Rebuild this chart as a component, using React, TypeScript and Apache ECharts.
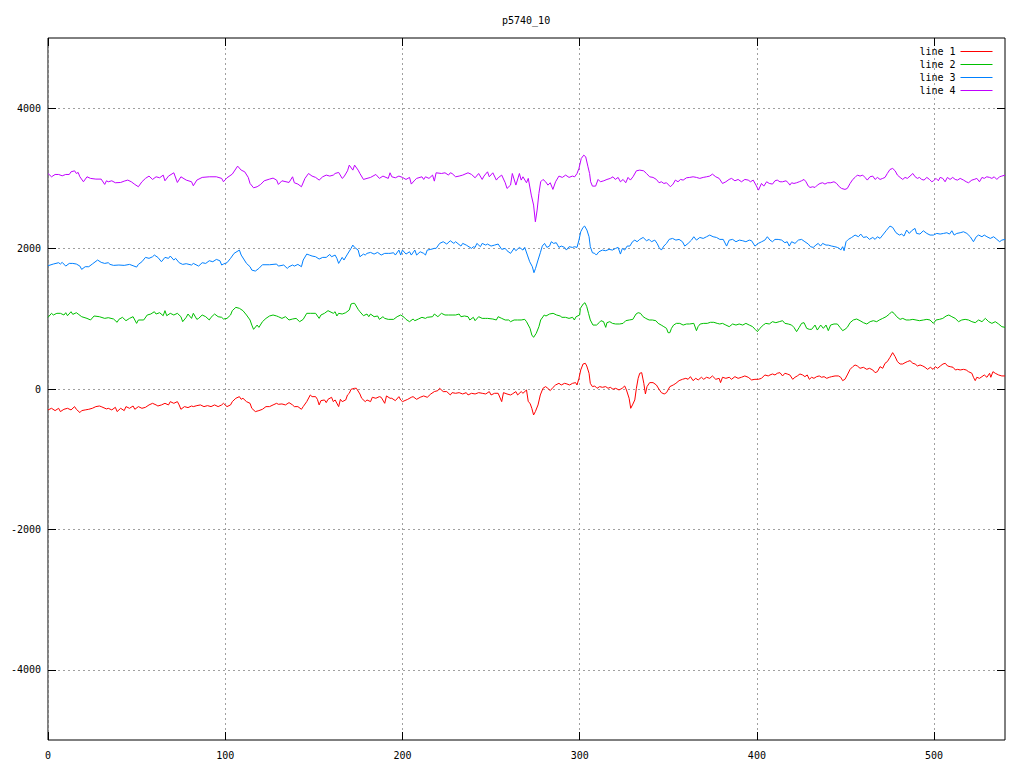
import React, { useEffect, useRef } from "react";
import * as echarts from "echarts";

const chartTitle = "p5740_10";
const seriesNames = ["line 1", "line 2", "line 3", "line 4"];
const seriesColors = ["#ff0000", "#00c000", "#0080ff", "#c000ff"];
const xTicks = [0, 100, 200, 300, 400, 500];
const yTicks = [-4000, -2000, 0, 2000, 4000];

const line1: [number, number][] = [[0,-298],[2,-275],[4,-308],[6,-275],[7,-322],[9,-289],[11,-275],[13,-298],[15,-251],[16,-289],[18,-336],[19,-308],[21,-298],[23,-289],[25,-275],[27,-251],[29,-242],[30,-251],[33,-284],[34,-275],[36,-298],[38,-261],[39,-322],[41,-275],[43,-308],[44,-251],[46,-275],[48,-242],[49,-289],[51,-251],[53,-275],[55,-261],[57,-227],[59,-204],[61,-227],[62,-242],[64,-227],[66,-204],[68,-227],[69,-180],[71,-204],[73,-180],[74,-227],[75,-289],[77,-251],[79,-265],[81,-242],[82,-251],[84,-237],[86,-227],[88,-251],[90,-237],[92,-251],[94,-227],[96,-251],[98,-227],[99,-204],[101,-251],[103,-227],[104,-180],[106,-132],[108,-109],[109,-147],[110,-132],[112,-180],[114,-204],[115,-275],[117,-322],[119,-308],[121,-289],[123,-251],[125,-251],[127,-227],[129,-204],[130,-218],[132,-213],[134,-227],[136,-194],
[138,-227],[139,-251],[141,-251],[143,-289],[144,-251],[146,-180],[148,-85],[149,-109],[151,-109],[152,-147],[153,-227],[154,-166],[156,-156],[157,-194],[158,-147],[160,-118],[161,-180],[162,-156],[164,-251],[165,-147],[166,-180],[168,-156],[169,-85],[170,-61],[171,-4],[173,10],[174,10],[176,-71],[177,-132],[179,-180],[180,-156],[182,-180],[183,-118],[185,-132],[187,-109],[188,-118],[190,-204],[191,-99],[193,-132],[194,-132],[196,-166],[198,-109],[199,-156],[200,-180],[203,-147],[205,-118],[206,-109],[208,-147],[210,-118],[212,-99],[214,-118],[216,-71],[218,-37],[220,-23],[221,10],[223,-37],[225,-37],[227,-85],[228,-52],[230,-61],[232,-52],[234,-71],[236,-52],[237,-85],[239,-61],[241,-71],[243,-52],[245,-61],[247,-71],[249,-37],[250,-85],[252,-61],[254,-61],[256,-180],[257,-52],[259,-71],[261,-85],[262,-71],[264,-37],[265,-85],[267,-37],[268,-61],[270,-14],[271,-180],
[272,-204],[273,-275],[274,-370],[275,-322],[276.5,-227],[277.8,-85],[279.3,10],[280.8,34],[282,10],[283.4,-23],[285,24],[286.4,57],[288.3,81],[289.6,57],[291.5,81],[292.8,72],[294.3,57],[296,81],[297.7,91],[298.5,57],[299.6,152],[300.6,271],[301.9,356],[303.2,366],[304,328],[305.3,224],[306,81],[307.2,34],[308.5,43],[309.8,10],[311.3,34],[312.8,24],[314.7,34],[316,10],[317.3,24],[318.8,-4],[320.3,10],[322.2,-14],[324,10],[325.4,43],[326.4,-14],[327.9,-132],[328.8,-275],[329.8,-227],[331.1,-156],[332,10],[333,152],[333.9,224],[335,233],[336.2,81],[337.1,-71],[338,34],[339.5,91],[341.4,91],[343.3,57],[344.8,-4],[346.1,-52],[347.7,-71],[349,-52],[350.9,34],[352.8,57],[354.3,81],[356.1,119],[358,138],[359.9,152],[361.2,138],[362.5,176],[364,119],[365.5,152],[366.9,129],[368.7,167],[370,138],[371.6,167],[373.4,152],[374.9,186],[376.8,138],[378.7,152],[379.5,91],[380.6,167],[382.5,152],[384.4,167],[385.7,138],[387.6,176],[389.4,152],[391.3,167],[393.2,186],[395.1,167],[397,129],[398.9,138],[400.8,138],[402.6,152],[404.5,200],[406.4,186],[407.4,200],
[408.8,214],[410.2,200],[411.5,224],[413,233],[414.5,186],[415.8,224],[417.1,214],[418.6,200],[420.2,138],[421.5,167],[422.8,186],[424.3,214],[425.8,200],[427.1,176],[428.4,200],[429.6,138],[430.9,167],[432.2,152],[433.7,176],[435.2,186],[436.5,167],[437.9,176],[439.4,152],[440.9,167],[442.2,176],[444.1,186],[446,186],[447.3,167],[448.4,119],[449.7,138],[451,200],[452.6,280],[454.1,318],[455.4,342],[456.7,328],[458.2,295],[460.1,309],[462,280],[463.5,295],[465.4,271],[466.7,233],[468,247],[469.5,318],[471,295],[472.3,366],[473.6,390],[475.1,451],[476.6,518],[478,461],[479.3,390],[480.8,356],[482.3,356],[483.6,375],[484.9,390],[486.4,404],[488,366],[489.3,356],[490.6,328],[492.1,342],[493.6,328],[494.9,309],[496.3,280],[497.9,309],[499.4,280],[500.7,318],[502,295],[503.5,328],[505,356],[506.3,366],[507.6,328],[509.1,318],[510.7,309],[512,271],[513.3,280],[514.7,271],[516.6,280],[518.1,271],[519.4,247],[521.3,224],[522.2,167],[523.2,119],[524.1,167],[525.6,152],[527,176],[528.3,200],[529.8,167],[531.3,224],[532,167],[533.2,247],[534.5,224],[536.4,200],[538.2,186],[540,186]];

const line2: [number, number][] = [[0,1021],[2,1078],[3,1054],[5,1078],[7,1078],[9,1054],[10,1087],[11,1044],[13,1101],[14,1063],[16,1087],[17,1068],[19,1030],[22,1006],[24,983],[26,1040],[29,1030],[32,1006],[34,1016],[37,997],[39,950],[40,992],[42,1021],[44,973],[46,1006],[48,1030],[50,935],[51,983],[54,983],[56,1054],[58,1068],[60,1101],[61,1068],[63,1087],[65,1044],[66,1116],[67,1044],[69,1078],[71,1054],[73,1078],[75,1030],[76,959],[78,1021],[79,1068],[81,1006],[82,1078],[84,992],[85,1006],[87,1054],[89,1030],[91,983],[92,1021],[94,1068],[96,1030],[98,1021],[99,997],[101,1006],[103,1054],[104,1116],[106,1163],[108,1149],[110,1116],[112,1054],[114,983],[115,911],[116,850],[118,911],[119,878],[121,959],[123,1006],[125,1040],[127,1054],[129,1040],[130,1030],[132,1006],[134,1030],[136,983],
[138,997],[140,1006],[142,959],[144,992],[146,1078],[148,1078],[151,1078],[153,1006],[154,1054],[156,1078],[158,1116],[161,1078],[162,1101],[163,1040],[164,1078],[166,1068],[168,1087],[170,1125],[171,1211],[172,1220],[173,1220],[175,1135],[176,1101],[178,1044],[180,1068],[181,1030],[182,1068],[184,1030],[186,1040],[187,992],[189,1030],[190,1006],[192,992],[195,992],[197,1030],[199,1054],[201,1021],[202,992],[204,959],[206,997],[207,973],[209,997],[211,1021],[213,1006],[214,1021],[217,1030],[218,1068],[220,1030],[222,1078],[224,1054],[226,1054],[228,1054],[230,1054],[232,1068],[233,1030],[235,1040],[237,1030],[238,983],[240,1021],[241,973],[243,1030],[245,1006],[247,1006],[248,1006],[251,997],[253,983],[254,1030],[256,1006],[258,983],[260,983],[261,959],[263,983],[265,983],[267,983],[269,992],[270,959],
[272,864],[273,769],[274,736],[275.5,793],[277,888],[278,983],[280,1054],[281,1040],[283,1068],[285,1078],[287,1054],[289,1040],[290,1021],[292,1021],[294,1006],[296,1021],[297,983],[298,1030],[300,1054],[300.4,1149],[302,1211],[303,1229],[304,1173],[305,1078],[306,983],[307.5,911],[309.5,911],[311,945],[312,973],[313.5,959],[314.7,878],[315.4,945],[317,959],[318.5,935],[320.3,926],[322.6,926],[324.5,935],[326,973],[328,983],[330,992],[331.8,1068],[333,1087],[334.3,1078],[335.8,1030],[337.3,1006],[339.2,983],[341,983],[343,973],[344.3,935],[346,911],[347.5,888],[349,864],[349.9,802],[350.9,802],[351.8,864],[353,911],[354.6,935],[356.5,935],[358.4,911],[360.3,926],[362,926],[364.4,935],[365.9,831],[366.8,888],[368,926],[370,935],[372,935],[373.8,950],[375.7,950],[377.6,935],[379,926],[380.6,935],[382.5,911],[384.4,888],[386.3,926],[388.2,911],[390,926],[392,911],[393.8,935],[395.7,911],[397.6,888],[399,850],[400.3,817],[401.7,864],[403.6,911],[405,935],[407,926],
[408.8,959],[410.7,945],[412.6,959],[414.5,973],[415.8,935],[417.7,926],[419.6,911],[420.9,878],[422.4,817],[423.9,878],[425.2,935],[426.6,945],[428.1,864],[429.6,850],[430.9,850],[432.8,911],[434.1,840],[436,911],[437.5,864],[439,911],[440.3,831],[441.6,911],[443.5,926],[445.4,926],[446.9,878],[448.4,831],[449.7,850],[451,878],[452.6,945],[454.4,983],[456.3,997],[458.2,973],[460.1,945],[462,926],[463.9,959],[465.7,973],[467.6,959],[469.1,983],[471,1006],[472.9,1030],[474.8,1068],[476.1,1101],[477.4,1078],[478.9,1030],[480.8,992],[482.3,1006],[484.2,983],[486.1,983],[488,992],[489.8,983],[491.7,973],[494,983],[495.9,992],[497.7,983],[499.6,935],[501.1,983],[503,992],[504.9,1006],[506.8,1040],[508.3,1054],[510,1030],[511.9,1006],[513.8,959],[515.6,983],[517.5,992],[519.4,983],[521.3,959],[523.2,945],[525.1,983],[527,959],[528.9,1006],[530.8,959],[532.6,935],[534.5,959],[536.4,926],[538.2,888],[540,878]];

const line3: [number, number][] = [[0,1756],[3,1780],[6,1799],[7,1780],[8,1804],[10,1751],[12,1789],[14,1789],[16,1780],[18,1751],[19,1704],[21,1742],[23,1742],[25,1780],[28,1837],[30,1804],[32,1789],[34,1799],[35,1775],[37,1761],[40,1766],[43,1761],[46,1775],[48,1756],[50,1737],[51,1775],[53,1813],[55,1875],[57,1861],[59,1884],[60,1908],[62,1875],[64,1813],[66,1875],[68,1861],[69,1894],[71,1837],[72,1861],[74,1799],[76,1775],[78,1785],[81,1766],[82,1789],[85,1751],[87,1799],[89,1789],[91,1827],[93,1813],[95,1846],[97,1827],[98,1766],[99,1780],[101,1799],[103,1861],[105,1932],[108,1979],[109,1908],[112,1789],[114,1742],[115,1694],[117,1680],[119,1718],[121,1770],[125,1770],[129,1780],[130,1751],[133,1766],[135,1718],[136,1742],
[138,1766],[139,1751],[141,1775],[143,1742],[144,1837],[146,1922],[147.5,1908],[149,1894],[151,1884],[153,1851],[155,1875],[157,1875],[159,1917],[160,1884],[162,1908],[163,1861],[164,1789],[166,1875],[167,1837],[169,1922],[171,2003],[172,2050],[173,2017],[175,1979],[176,1884],[178,1922],[179,1908],[180,1932],[182,1946],[184,1922],[186,1946],[188,1908],[190,1932],[192,1932],[193,1932],[195,1941],[196,1908],[198,1979],[199,1908],[200,1979],[202,1922],[204,1955],[205,1908],[207,1979],[208,1908],[210,1955],[212,1932],[213,1908],[214,1979],[216,1989],[218,2003],[219,2003],[221,2074],[223,2098],[225,2065],[227,2112],[229,2074],[230,2098],[233,2036],[234,2074],[236,2050],[239,2003],[240,2027],[241,2017],[242,2074],[244,2027],[245,2074],[247,2050],[248,2065],[250,2036],[252,2050],[254,2065],[256,1989],[258,2003],[259,1970],[261,1932],[263,2003],[264,1970],[266,2017],[268,1979],[269,2017],[270.5,1908],
[271.8,1813],[273.3,1742],[274.2,1657],[275.1,1718],[276.5,1837],[277.8,1941],[278.9,2036],[280.2,2074],[281.5,2017],[283,2036],[284,2098],[285.3,2074],[286.8,2084],[288.3,2017],[289.6,2036],[291.5,2017],[292.5,1979],[294,2027],[295.9,2017],[297.2,2027],[298.5,2017],[299.6,2121],[300.6,2240],[301.9,2302],[302.8,2321],[304.1,2264],[305.3,2169],[306,2027],[307.2,1941],[308.5,1932],[309.4,1908],[310.9,1955],[312.8,1979],[314.7,1970],[316.6,1989],[318.5,1979],[320.3,2003],[321.7,2017],[323,1922],[324.1,2003],[325.4,1979],[326.8,2036],[328.3,2036],[329.8,2098],[331.1,2121],[332.4,2098],[333.9,2131],[335.8,2159],[337.7,2112],[339.2,2131],[340.5,2098],[342.4,2121],[343.7,2074],[344.8,2017],[346.1,1979],[347.5,2036],[349,2074],[350.5,2131],[352.4,2145],[354.3,2121],[356.1,2131],[358,2098],[359.3,2036],[361.2,2074],[363.1,2121],[364.4,2169],[365.9,2121],[367.8,2159],[369.7,2145],[371.6,2169],[373.4,2193],[375.3,2169],[377.2,2159],[379.1,2131],[381,2131],[382.9,2036],[384.4,2121],[386.3,2131],[388.2,2098],[390.1,2121],[392,2112],[393.8,2098],[395.7,2121],[397,2112],[398.9,2036],[400.8,2074],[402.7,2098],[404.5,2121],[405.9,2169],[407.4,2121],
[408.8,2098],[410.2,2131],[412,2131],[414,2121],[415.8,2084],[417.1,2098],[418.3,2036],[419.6,2098],[421.5,2074],[423.4,2121],[425.2,2131],[427.1,2098],[429,2065],[430.3,2027],[431.8,2017],[433.3,2050],[434.6,2074],[435.9,2036],[437.1,2074],[439,2050],[440.3,2050],[442.2,2036],[444,2027],[445.4,2017],[446.5,2003],[447.3,1979],[448.4,2027],[449.2,1970],[450.3,2098],[451.6,2131],[453.5,2159],[455.4,2193],[457.3,2169],[458.6,2207],[460.1,2159],[462,2169],[463.5,2131],[465.4,2159],[466.7,2131],[468,2169],[469.5,2145],[471,2193],[472.9,2254],[475.1,2321],[476.6,2302],[478.5,2226],[480.4,2193],[481.7,2207],[483,2178],[484.5,2264],[486,2216],[487.3,2254],[489.2,2288],[490.1,2216],[492,2207],[493.9,2254],[495.9,2216],[497.7,2193],[499.6,2193],[501.5,2216],[503.4,2207],[505.3,2216],[507.2,2226],[508.7,2207],[510,2254],[511.3,2193],[512.8,2216],[514.7,2226],[516.6,2240],[518.5,2216],[520.4,2169],[522.2,2098],[523.8,2169],[525.1,2193],[527,2169],[528.3,2193],[529.8,2169],[531.7,2145],[533.6,2169],[535.4,2131],[537,2098],[538.2,2121],[540,2131]];

const line4: [number, number][] = [[0,3070],[2,3023],[4,3056],[6,3056],[8,3037],[10,3056],[12,3056],[13,3094],[15,3108],[16,3070],[17,3085],[18,3023],[20,2952],[22,3023],[24,3000],[27,2990],[30,2990],[32,2914],[33,2966],[34,2952],[36,2966],[38,2938],[41,2942],[43,2961],[45,2976],[47,2952],[49,2914],[51,2881],[53,2952],[55,3000],[57,3033],[59,2985],[61,3023],[63,3009],[65,3047],[66,2966],[68,3033],[71,3080],[73,2942],[75,3023],[78,2976],[81,2952],[82,2895],[84,2976],[87,3014],[91,3023],[95,3023],[98,3000],[99,2952],[101,3009],[104,3061],[107,3175],[109,3118],[111,3094],[113,3014],[114,2928],[116,2866],[118,2881],[120,2914],[122,2966],[125,2990],[127,3004],[129,2976],[130,2914],[132,2966],[136,2942],
[138,3023],[139,2938],[141,2919],[143,2881],[145,3000],[147,3070],[149,3033],[151,3014],[153,2976],[155,3023],[157,3047],[159,3033],[161,3047],[162,3070],[164,3085],[166,3000],[167,3023],[169,3108],[170,3189],[172,3118],[173,3189],[175,3118],[176,3070],[178,2985],[180,3000],[182,3014],[185,3056],[187,3000],[189,3033],[192,3000],[193,3080],[194,3023],[196,3009],[198,3033],[200,3014],[202,2985],[204,3014],[205,2919],[207,2976],[208,3000],[211,3023],[212,2985],[213,3023],[215,3000],[217,3047],[218,2961],[219,3080],[222,3070],[224,3080],[226,3047],[227,3080],[228,3070],[230,3023],[232,3033],[234,3047],[237,3080],[239,3056],[241,3009],[243,3070],[245,2985],[246,3033],[248,3094],[249,3023],[251,3080],[253,2976],[254,3009],[256,3047],[258,2938],[259,2857],[261,2905],[262,3070],[264,2905],[266,3070],[267,2976],[268,3023],[270,2938],[271,3000],
[272.7,2762],[274,2620],[275,2382],[276,2549],[277,2786],[278,2952],[279.3,2985],[280.8,2952],[282.1,2904],[283.4,2938],[284.9,2843],[286.4,2952],[288.3,3033],[290.2,3014],[292.1,3047],[294,3014],[295.9,3033],[297.2,3023],[298.5,3070],[299.6,3142],[300.9,3284],[302.3,3331],[303.4,3308],[304.7,3165],[305.6,3070],[306.2,2952],[307.2,2890],[309,2890],[310.4,2985],[311.7,2952],[313.6,2966],[315.4,2985],[317.3,3000],[318.8,3023],[320.1,2985],[321.7,3014],[323,2952],[324.5,2985],[326,2938],[327.3,3014],[328.6,2976],[330.1,3023],[332,3108],[333.9,3118],[336.1,3108],[337.7,3070],[339.5,3023],[341.4,3014],[343.3,2985],[344.8,2938],[346.1,2952],[347.5,2928],[349,2938],[351.2,2881],[352.7,2919],[354,2976],[355.5,2952],[356.9,2985],[358.4,2976],[360.3,3009],[362.1,3014],[364,3023],[365.9,3014],[367.8,3000],[369.7,3014],[371.6,3023],[373.4,3033],[374.9,3061],[376.8,3023],[378.7,3000],[380.6,2928],[382.5,2952],[384.3,2985],[385.7,3000],[387.6,2966],[389.4,2985],[391.3,2952],[393.2,2985],[395.1,2976],[396.4,2952],[397.9,2976],[399.5,2904],[400.9,2833],[402.6,2928],[403.9,2890],[405.5,2952],[407,2928],
[408.8,2919],[410.2,2966],[411.5,2976],[413,2952],[414.5,2952],[416.4,2966],[417.7,2938],[418.6,2904],[419.6,2938],[420.9,2928],[422.4,2938],[423.9,2952],[425.2,2966],[426.6,2985],[427.7,2952],[429,2890],[430,2871],[431.5,2881],[432.8,2871],[434.1,2904],[435.6,2928],[437.1,2938],[438.4,2919],[439.8,2938],[441.7,2938],[443.5,2952],[445,2928],[446.5,2881],[447.8,2857],[449.7,2843],[451,2857],[452.6,2928],[454.1,2985],[455.4,3014],[456.7,3047],[458.2,3033],[459.7,3047],[461,3014],[462.3,2976],[463.8,3023],[465.4,3033],[466.7,2985],[468,3014],[469.5,2985],[471,3000],[472.3,3014],[473.6,3070],[475.1,3127],[476.6,3142],[478,3108],[479.3,3047],[480.8,3014],[482.3,2985],[483.6,3014],[484.9,3000],[486.4,3033],[488,3070],[489.3,3023],[490.6,3000],[491.7,3014],[493,2985],[494.3,2976],[495.9,3014],[497.4,2985],[498.7,2952],[499.6,2966],[501.1,3000],[502.4,2966],[503.4,3014],[504.9,3000],[506.2,2952],[507.5,3014],[509,2985],[510.5,3014],[511.9,2985],[513.2,2976],[514.7,3000],[516.6,2976],[518.1,2952],[519.4,2938],[521.3,2976],[522.6,2985],[524.1,3000],[525.6,2952],[527,3014],[528.3,3000],[529.7,3023],[531.3,3014],[532.6,3000],[533.9,3023],[535.4,2985],[536.9,3023],[538.2,3033],[540,3047]];

const allLines = [line1, line2, line3, line4];

const FONT = "DejaVu Sans Mono";

export default function App() {
  const ref = useRef<HTMLDivElement>(null);
  useEffect(() => {
    if (!ref.current) return;
    const chart = echarts.init(ref.current, undefined, { renderer: "svg" });
    const tickStyle = { show: true, inside: true, length: 8, lineStyle: { color: "#000", width: 1 } };
    const gridLine = { show: true, lineStyle: { color: "#a0a0a0", width: 1, type: [2, 3] as any } };
    chart.setOption({
      animation: false,
      backgroundColor: "#ffffff",
      color: seriesColors,
      title: {
        text: chartTitle,
        left: 497,
        top: 10,
        textStyle: { fontFamily: FONT, fontSize: 10, fontWeight: "normal", color: "#000" },
      },
      legend: {
        orient: "vertical",
        right: 26,
        top: 40,
        align: "right",
        itemWidth: 32,
        itemHeight: 13,
        itemGap: 0,
        itemStyle: { opacity: 0 },
        lineStyle: { width: 1, opacity: 1 },
        textStyle: { fontFamily: FONT, fontSize: 10, color: "#000", lineHeight: 13 },
        data: seriesNames,
      },
      grid: {
        left: 48,
        right: 19,
        top: 38,
        bottom: 28,
        show: true,
        borderColor: "#000",
        borderWidth: 1,
        backgroundColor: "transparent",
        containLabel: false,
      },
      xAxis: [
        {
          type: "value",
          min: 0,
          max: 540,
          position: "bottom",
          axisLine: { show: false, onZero: false },
          axisTick: { ...tickStyle, customValues: xTicks },
          axisLabel: {
            customValues: xTicks,
            fontFamily: FONT,
            fontSize: 10,
            color: "#000",
            margin: 10,
            formatter: (v: number) => String(v),
          },
          splitLine: gridLine,
        },
        {
          type: "value",
          min: 0,
          max: 540,
          position: "top",
          axisLine: { show: false, onZero: false },
          axisTick: { ...tickStyle, customValues: xTicks },
          axisLabel: { show: false },
          splitLine: { show: false },
        },
      ],
      yAxis: [
        {
          type: "value",
          min: -5000,
          max: 5000,
          position: "left",
          axisLine: { show: false, onZero: false },
          axisTick: { ...tickStyle, customValues: yTicks },
          axisLabel: {
            customValues: yTicks,
            fontFamily: FONT,
            fontSize: 10,
            color: "#000",
            margin: 7,
            formatter: (v: number) => String(v),
          },
          splitLine: gridLine,
        },
        {
          type: "value",
          min: -5000,
          max: 5000,
          position: "right",
          axisLine: { show: false, onZero: false },
          axisTick: { ...tickStyle, customValues: yTicks },
          axisLabel: { show: false },
          splitLine: { show: false },
        },
      ],
      series: allLines.map((d, i) => ({
        name: seriesNames[i],
        type: "line",
        xAxisIndex: 0,
        yAxisIndex: 0,
        data: d,
        showSymbol: false,
        symbol: "none",
        lineStyle: { color: seriesColors[i], width: 1 },
        itemStyle: { color: seriesColors[i] },
        emphasis: { disabled: true },
        silent: true,
      })),
    });
    return () => chart.dispose();
  }, []);
  return (
    <div
      ref={ref}
      style={{ position: "fixed", left: 0, top: 0, width: 1024, height: 768, background: "#fff" }}
    />
  );
}
